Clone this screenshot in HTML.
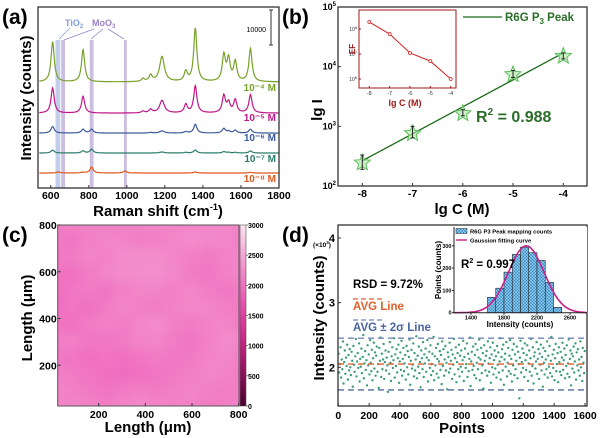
<!DOCTYPE html>
<html><head><meta charset="utf-8">
<style>
html,body{margin:0;padding:0;background:#fff;}
svg{display:block;font-family:"Liberation Sans",Arial,sans-serif;font-weight:bold;}
</style></head>
<body>
<svg id="fig" width="600" height="438" viewBox="0 0 600 438" xmlns="http://www.w3.org/2000/svg">
<defs>
<pattern id="hatch" width="3" height="3" patternUnits="userSpaceOnUse"><rect width="3" height="3" fill="#7ec8f0"/><path d="M0,0L3,3M3,0L0,3" stroke="#3a7ab0" stroke-width="0.5"/></pattern>
<filter id="blur" x="0" y="0" width="1" height="1"><feGaussianBlur stdDeviation="5"/></filter>
<clipPath id="clipc"><rect x="57.7" y="225" width="181.3" height="181"/></clipPath>
<linearGradient id="cbar" x1="0" y1="1" x2="0" y2="0">
<stop offset="0" stop-color="#4a0030"/><stop offset="0.167" stop-color="#8a1058"/><stop offset="0.333" stop-color="#c0207e"/><stop offset="0.5" stop-color="#e040a0"/><stop offset="0.667" stop-color="#f070c0"/><stop offset="0.833" stop-color="#f5a5d5"/><stop offset="1" stop-color="#fbe3f2"/>
</linearGradient>
</defs>

<text x="2" y="24" font-size="21">(a)</text>
<text x="282" y="24" font-size="21">(b)</text>
<text x="2" y="242" font-size="21">(c)</text>
<text x="282" y="242" font-size="21">(d)</text>

<g id="pa"></g>
<g id="pb"></g>
<g id="pc"></g>
<g id="pd"></g>
</svg>
<script>
// ---------- Panel (a) data ----------
const aSeriesLabels = ["10⁻⁴ M","10⁻⁵ M","10⁻⁶ M","10⁻⁷ M","10⁻⁸ M"];
const aOffsets = [26000,17100,11400,5700,0];
const aCenters = [610,640,770,815,990,1085,1125,1185,1310,1360,1510,1535,1570,1650];
const aHeights4 = [11500,0,9200,0,0,800,1800,7200,2800,15200,7400,6200,5600,9400];
const aHeights5 = [7200,0,4800,0,0,500,1000,3600,2400,7700,4900,2800,3700,5200];
const aHeights6 = [1900,0,1100,1100,0,0,200,600,400,2500,1300,500,800,1100];
const aHeights7 = [850,0,600,1100,0,0,0,300,200,850,400,200,200,600];
const aHeights8 = [0,300,200,1700,600,0,0,0,0,300,0,0,0,200];
const aXTicks = [600,800,1000,1200,1400,1600,1800];
const aBands = [[625,650],[655,675],[805,825],[985,1000]];

// ---------- Panel (b) data ----------
const bLogC = [-8,-7,-6,-5,-4];
const bIntensity = [245,760,1640,7400,15000];
const bErrLow = [190,640,1500,6600,13500];
const bErrHigh = [330,1000,1900,8600,17000];
const bFit = [265,17000];
const bXTicks = [-8,-7,-6,-5,-4];
const bYTickExp = [2,3,4,5];
const bEF = [1.9e8,6.3e7,1.1e7,5.2e6,1.0e6];
const bEFTickExp = [6,7,8];

// ---------- Panel (c) data ----------
const cGrid = [
[2150,2200,2180,2120,2150,2200,2230,2200,2180,2220,2250,2200],
[2100,2050,2150,2200,2180,2120,2150,2200,2250,2230,2200,2150],
[2080,2100,2200,2150,2250,2280,2260,2200,2150,2100,2180,2200],
[2050,2000,2100,2200,2250,2280,2300,2220,2100,2080,2150,2200],
[2000,2050,2120,2050,2150,2200,2180,2150,2200,2120,2080,2100],
[1980,2050,2000,2100,2200,2150,2100,2180,2220,2200,2150,2080],
[2050,2000,2100,2150,2120,2200,2250,2150,2100,2180,2200,2120],
[2100,2150,2080,2050,2100,2180,2200,2100,2050,2150,2250,2200],
[2080,2050,2000,2050,2000,2050,2100,2080,2100,2180,2200,2150],
[2150,2100,2050,2000,1980,2000,2050,2100,2150,2200,2180,2100],
[2200,2150,2100,2050,2100,2150,2100,2150,2200,2150,2100,2150],
[2180,2220,2200,2150,2200,2250,2200,2180,2150,2100,2150,2200]];
const cTicks = [200,400,600,800];
const cBarTicks = [0,500,1000,1500,2000,2500,3000];

// ---------- Panel (d) data ----------
const dValues = [
2.21,1.92,2.05,2.31,1.84,2.12,1.97,2.40,1.75,2.08,2.26,1.90,2.15,2.02,2.35,1.81,2.19,1.95,2.28,2.00,
1.88,2.24,2.10,1.70,2.33,2.04,1.93,2.17,2.44,1.86,2.09,2.22,1.99,2.37,1.78,2.13,2.01,2.29,1.91,2.16,
2.50,1.83,2.06,2.25,1.96,2.11,1.72,2.34,2.03,2.20,1.89,2.42,2.07,1.94,2.27,1.80,2.14,2.38,1.98,2.23,
1.87,2.18,2.32,1.93,2.05,1.68,2.30,2.10,2.46,1.85,2.21,1.97,2.12,2.36,1.82,2.08,2.26,1.95,2.15,2.03,
1.62,2.24,1.90,2.39,2.07,1.79,2.17,2.31,1.99,2.11,2.45,1.84,2.20,2.02,2.28,1.92,2.14,2.35,1.76,2.09,
2.23,1.96,2.41,1.87,2.13,2.30,1.94,2.06,2.19,1.81,2.33,2.00,2.25,1.89,2.16,2.43,1.73,2.10,2.27,1.98,
2.04,2.37,1.86,2.22,1.95,2.12,2.48,1.83,2.18,2.01,2.32,1.91,2.08,1.69,2.26,2.14,1.97,2.39,1.85,2.20,
2.06,2.29,1.93,2.15,2.42,1.78,2.11,2.24,1.99,2.34,1.88,2.05,2.21,1.94,2.47,1.80,2.17,2.03,2.30,1.90,
2.13,2.36,1.84,2.09,2.25,1.96,2.19,1.74,2.40,2.02,2.28,1.87,2.12,2.33,1.95,2.07,1.66,2.23,2.16,1.92,
2.38,1.98,2.10,2.27,1.82,2.20,2.04,2.44,1.89,2.14,2.31,1.77,2.08,2.22,1.97,2.35,1.86,2.18,2.01,2.26,
1.93,2.11,2.41,1.79,2.16,2.29,1.99,2.05,2.37,1.85,2.21,1.94,2.13,2.46,1.71,2.09,2.24,1.96,2.32,2.02,
1.88,2.19,2.36,1.83,2.07,2.27,1.97,2.15,2.43,1.80,2.12,2.30,1.91,2.03,2.22,1.67,2.34,2.10,1.95,2.18,
2.25,1.87,2.40,2.06,1.93,2.14,2.31,1.76,2.20,2.00,2.38,1.89,2.11,2.26,1.98,2.17,1.84,2.33,2.04,2.23,
1.92,2.09,2.45,1.81,2.16,2.28,1.95,2.35,1.73,2.12,2.21,2.01,2.39,1.86,2.07,2.30,1.94,2.18,2.42,1.90,
2.13,1.78,2.27,2.03,2.36,1.88,2.20,1.97,2.10,2.32,1.83,2.24,2.05,1.52,2.15,2.41,1.92,2.08,2.29,1.99,
2.22,1.85,2.37,2.11,1.96,2.19,2.34,1.79,2.06,2.26,1.93,2.14,2.44,1.87,2.02,2.31,1.75,2.17,2.23,1.98,
2.09,2.39,1.90,2.13,2.28,1.82,2.21,2.04,2.35,1.95,2.16,1.70,2.30,2.07,1.89,2.25,2.12,1.97,2.40,1.84,
2.18,2.01,2.33,1.91,2.10,2.47,1.86,2.20,1.99,2.27,1.80,2.14,2.36,1.94,2.05,2.22,1.77,2.31,2.08,1.93,
2.24,1.88,2.15,2.38,1.96,2.11,2.29,1.83,2.19,2.02,2.34,1.90,2.06,2.43,1.85,2.13,2.26,1.72,2.21,1.98,
2.17,2.32,1.92,2.09,2.37,1.81,2.23,2.03,2.28,1.95,2.12,1.87,2.40,2.00,2.16,1.79,2.30,2.07,1.91,2.25];
const dAvg = 2.05, dHi = 2.45, dLo = 1.65;
const dXTicks = [0,200,400,600,800,1000,1200,1400,1600];
const dYTicks = [2,3,4];
const hBinStart = [1600,1700,1800,1900,2000,2100,2200,2300,2400];
const hCounts = [69,110,182,261,294,269,234,136,24];
const hXTicks = [1400,1800,2200,2600];
const hYTicks = [0,100,200,300];
const gMean = 2070, gSigma = 215, gAmp = 300;

const NS = "http://www.w3.org/2000/svg";
function mk(parent, tag, attrs, text){
  const e = document.createElementNS(NS, tag);
  for (const k in attrs) e.setAttribute(k, attrs[k]);
  if (text !== undefined) e.textContent = text;
  parent.appendChild(e);
  return e;
}
function lin(d0,d1,r0,r1){ return v => r0 + (v-d0)*(r1-r0)/(d1-d0); }

// ================= Panel A =================
(function(){
  const g = document.getElementById('pa');
  const L=38,R=279,T=7,B=188;
  const x = lin(533,1800,L,R);
  const y = lin(0,10000,173,138);
  aBands.forEach((b,i)=>{
    const r = mk(g,'rect',{x:x(b[0]),y:40,width:x(b[1])-x(b[0]),height:B-40,fill:i===0?'#b9c6e6':'#c3b3dc',opacity:0.85});
    
    
  });
  const heights=[aHeights4,aHeights5,aHeights6,aHeights7,aHeights8];
  const colors=['#78a22a','#c01887','#3c5a9c','#2b7d6c','#e2571e'];
  const labY=[91,121,141,162,182];
  heights.forEach((hs,si)=>{
    let d='';
    for(let w=540; w<=1800; w+=2){
      let v=aOffsets[si];
      aCenters.forEach((c,k)=>{ const hw=(c===1185)?15:10; v+=hs[k]/(1+((w-c)/hw)**2); });
      d+=(w===540?'M':'L')+x(w).toFixed(1)+','+y(v).toFixed(1);
    }
    const p=mk(g,'path',{d:d,fill:'none',stroke:colors[si],'stroke-width':1.2});
    
    
    const t=mk(g,'text',{x:276,y:labY[si],'text-anchor':'end','font-size':10,fill:colors[si]},aSeriesLabels[si]);
    
    
  });
  mk(g,'rect',{x:L,y:T,width:R-L,height:B-T,fill:'none',stroke:'#333','stroke-width':1.3});
  aXTicks.forEach(v=>{
    mk(g,'line',{x1:x(v),x2:x(v),y1:B,y2:B-3,stroke:'#333'});
    const t=mk(g,'text',{x:x(v),y:199,'text-anchor':'middle','font-size':10.5},v);
    
    
  });
  const sb=mk(g,'line',{x1:271,x2:271,y1:10,y2:45,stroke:'#333','stroke-width':1});
  
  
  mk(g,'line',{x1:269,x2:273,y1:10,y2:10,stroke:'#333'});
  mk(g,'line',{x1:269,x2:273,y1:45,y2:45,stroke:'#333'});
  mk(g,'text',{x:266,y:32,'text-anchor':'end','font-size':7,'font-weight':'normal'},'10000');
  const t1=mk(g,'text',{x:65,y:26,'font-size':9,fill:'#7fa0d8'});
  t1.innerHTML='TiO<tspan font-size="6" dy="2">2</tspan>';
  const t2=mk(g,'text',{x:92,y:26,'font-size':9,fill:'#9a80c8'});
  t2.innerHTML='MoO<tspan font-size="6" dy="2">3</tspan>';
  [[70,28,59,39],[94,29,64,40],[103,29,91,39],[108,29,124,39]].forEach((a,i)=>{
    mk(g,'line',{x1:a[0],y1:a[1],x2:a[2],y2:a[3],stroke:i===0?'#7fa0d8':'#9a80c8','stroke-width':0.8});
  });
  const xt=mk(g,'text',{x:158,y:216,'text-anchor':'middle','font-size':15});
  xt.innerHTML='Raman shift (cm<tspan font-size="9" dy="-6">-1</tspan><tspan dy="6">)</tspan>';
  
  
  const yt=mk(g,'text',{x:0,y:0,transform:'translate(31,98) rotate(-90)','text-anchor':'middle','font-size':15},'Intensity (counts)');
  
  
})();

// ================= Panel B =================
(function(){
  const g=document.getElementById('pb');
  const L=338,R=587,T=7,B=186;
  const x=lin(-8,-4,362.3,563.3);
  const ly=lin(2,5,B,T);
  const y=v=>ly(Math.log10(v));
  mk(g,'rect',{x:L,y:T,width:R-L,height:B-T,fill:'none',stroke:'#333','stroke-width':1.3});
  bXTicks.forEach(v=>{
    mk(g,'line',{x1:x(v),x2:x(v),y1:B,y2:B-3,stroke:'#333'});
    const t=mk(g,'text',{x:x(v),y:197,'text-anchor':'middle','font-size':10.5},v);
    
    
  });
  bYTickExp.forEach(e=>{
    mk(g,'line',{x1:L,x2:L+3,y1:ly(e),y2:ly(e),stroke:'#333'});
    const t=mk(g,'text',{x:L-2,y:ly(e)+3,'text-anchor':'end','font-size':9});
    t.innerHTML='10<tspan font-size="6" dy="-4">'+e+'</tspan>';
    
    
  });
  const fit=mk(g,'line',{x1:x(bLogC[0]),y1:y(bFit[0]),x2:x(bLogC[4]),y2:y(bFit[1]),stroke:'#1d6b1d','stroke-width':1.3});
  
  
  bLogC.forEach((c,i)=>{
    const cx=x(c), cy=y(bIntensity[i]);
    let pts='';
    for(let k=0;k<10;k++){const r=k%2?3.8:8.5; const a=-Math.PI/2+k*Math.PI/5; pts+=(cx+r*Math.cos(a)).toFixed(1)+','+(cy+r*Math.sin(a)).toFixed(1)+' ';}
    const s=mk(g,'polygon',{points:pts,fill:'#a8e6a0','fill-opacity':0.6,stroke:'#5cbf5c','stroke-width':1});
    
    
    mk(g,'line',{x1:cx,x2:cx,y1:y(bErrLow[i]),y2:y(bErrHigh[i]),stroke:'#222','stroke-width':1});
    mk(g,'line',{x1:cx-2,x2:cx+2,y1:y(bErrLow[i]),y2:y(bErrLow[i]),stroke:'#222'});
    mk(g,'line',{x1:cx-2,x2:cx+2,y1:y(bErrHigh[i]),y2:y(bErrHigh[i]),stroke:'#222'});
  });
  mk(g,'line',{x1:463,x2:502,y1:17,y2:17,stroke:'#1d6b1d','stroke-width':1.3});
  const lg=mk(g,'text',{x:505,y:21,'font-size':11.5,fill:'#2a6e2a'});
  lg.innerHTML='R6G P<tspan font-size="8" dy="3">3</tspan><tspan dy="-3"> Peak</tspan>';
  
  
  const r2=mk(g,'text',{x:476,y:122,'font-size':16,fill:'#2a6e2a'});
  r2.innerHTML='R<tspan font-size="10" dy="-7">2</tspan><tspan dy="7"> = 0.988</tspan>';
  
  
  const xt=mk(g,'text',{x:462,y:214,'text-anchor':'middle','font-size':15},'lg C (M)');
  
  
  const yt=mk(g,'text',{x:0,y:0,transform:'translate(322,110) rotate(-90)','text-anchor':'middle','font-size':15},'lg I');
  
  
  const IL=359,IR=456,IT=10,IB=88;
  const ix=lin(-8,-4,369.3,450.7);
  const iy=lin(6,8,79,29);
  mk(g,'rect',{x:IL,y:IT,width:IR-IL,height:IB-IT,fill:'#fff',stroke:'#a01818','stroke-width':1});
  bEFTickExp.forEach(e=>{
    mk(g,'line',{x1:IL,x2:IL+2,y1:iy(e),y2:iy(e),stroke:'#a01818'});
    const t=mk(g,'text',{x:IL-2,y:iy(e)+2,'text-anchor':'end','font-size':5,'font-weight':'normal',fill:'#333'});
    t.innerHTML='10<tspan font-size="4" dy="-2">'+e+'</tspan>';
  });
  bXTicks.forEach(v=>{
    mk(g,'line',{x1:ix(v),x2:ix(v),y1:IB,y2:IB-2,stroke:'#a01818'});
    mk(g,'text',{x:ix(v),y:IB+7,'text-anchor':'middle','font-size':5.5,'font-weight':'normal',fill:'#333'},v);
  });
  let d='';
  bLogC.forEach((c,i)=>{ d+=(i?'L':'M')+ix(c)+','+iy(Math.log10(bEF[i])); });
  const il=mk(g,'path',{d:d,fill:'none',stroke:'#d42020','stroke-width':1});
  
  
  bLogC.forEach((c,i)=>{
    const p=mk(g,'circle',{cx:ix(c),cy:iy(Math.log10(bEF[i])),r:1.5,fill:'#fff',stroke:'#d42020','stroke-width':0.8});
    
    
  });
  mk(g,'text',{x:405,y:106,'text-anchor':'middle','font-size':9,fill:'#a01818'},'lg C (M)');
  mk(g,'text',{x:0,y:0,transform:'translate(355,49) rotate(-90)','text-anchor':'middle','font-size':8,fill:'#a01818'},'EF');
})();

// ================= Panel C =================
(function(){
  const g=document.getElementById('pc');
  const L=57.7,R=239,T=225,B=406;
  const x=lin(0,800,52,238.7);
  const y=lin(0,800,412,225);
  const stops=[[0,[74,0,48]],[500,[138,16,88]],[1000,[192,32,126]],[1500,[224,64,160]],[2000,[240,112,192]],[2500,[245,165,213]],[3000,[251,227,242]]];
  function col(v){
    for(let i=0;i<stops.length-1;i++){
      if(v<=stops[i+1][0]){const t=(v-stops[i][0])/(stops[i+1][0]-stops[i][0]);
        const c=stops[i][1].map((a,k)=>Math.round(a+(stops[i+1][1][k]-a)*t));return 'rgb('+c.join(',')+')';}
    }
    return 'rgb(251,227,242)';
  }
  const hg=mk(g,'g',{'clip-path':'url(#clipc)'});
  const inner=mk(hg,'g',{filter:'url(#blur)'});
  const n=cGrid.length, m=cGrid[0].length;
  const cw=(R-L+24)/m, ch=(B-T+24)/n;
  cGrid.forEach((row,ri)=>row.forEach((v,ci)=>{
    const r=mk(inner,'rect',{x:L-12+ci*cw,y:T-12+ri*ch,width:cw+0.5,height:ch+0.5,fill:col(v)});
    
    
  }));
  mk(g,'rect',{x:L,y:T,width:R-L,height:B-T,fill:'none',stroke:'#555','stroke-width':1});
  cTicks.forEach(v=>{
    mk(g,'line',{x1:x(v),x2:x(v),y1:B,y2:B-3,stroke:'#333'});
    const t=mk(g,'text',{x:x(v),y:418,'text-anchor':'middle','font-size':10.5},v);
    
    
    mk(g,'line',{x1:L,x2:L+3,y1:y(v),y2:y(v),stroke:'#333'});
    const t2=mk(g,'text',{x:L-1,y:y(v)+4,'text-anchor':'end','font-size':10.5},v);
    
    
  });
  const cb=mk(g,'rect',{x:240,y:T,width:6,height:B-T,fill:'url(#cbar)',stroke:'#555','stroke-width':0.6});
  
  
  const cy=lin(0,3000,B,T);
  cBarTicks.forEach(v=>{
    mk(g,'line',{x1:246,x2:248,y1:cy(v),y2:cy(v),stroke:'#333',"stroke-width":0.6});
    const t=mk(g,'text',{x:248,y:cy(v)+3,'font-size':7},v);
    
    
  });
  const xt=mk(g,'text',{x:148,y:432,'text-anchor':'middle','font-size':15},'Length (μm)');
  
  
  const yt=mk(g,'text',{x:0,y:0,transform:'translate(32,318) rotate(-90)','text-anchor':'middle','font-size':15},'Length (μm)');
  
  
})();

// ================= Panel D =================
(function(){
  const g=document.getElementById('pd');
  const L=338,R=587,T=225,B=406;
  const x=lin(0,1600,338.3,585);
  const y=lin(2,4,367.3,238);
  const step=1600/dValues.length;
  dValues.forEach((v,i)=>{
    const c=mk(g,'circle',{cx:x(i*step+step/2).toFixed(1),cy:y(v).toFixed(1),r:1.2,fill:'#3c9c7c'});
    
    
  });
  const la=mk(g,'line',{x1:L,x2:R,y1:y(dAvg),y2:y(dAvg),stroke:'#e0602a','stroke-width':1.4,'stroke-dasharray':'6,4'});
  
  
  const lh=mk(g,'line',{x1:L,x2:R,y1:y(dHi),y2:y(dHi),stroke:'#7088b8','stroke-width':1.4,'stroke-dasharray':'6,4'});
  
  
  const ll=mk(g,'line',{x1:L,x2:R,y1:y(dLo),y2:y(dLo),stroke:'#2c4a8a','stroke-width':1.2,'stroke-dasharray':'6,4'});
  
  
  mk(g,'rect',{x:L,y:T,width:R-L,height:B-T,fill:'none',stroke:'#333','stroke-width':1.3});
  dXTicks.forEach(v=>{
    mk(g,'line',{x1:x(v),x2:x(v),y1:B,y2:B-3,stroke:'#333'});
    const t=mk(g,'text',{x:x(v),y:419,'text-anchor':'middle','font-size':10.5},v);
    
    
  });
  dYTicks.forEach(v=>{
    mk(g,'line',{x1:L,x2:L+3,y1:y(v),y2:y(v),stroke:'#333'});
    const t=mk(g,'text',{x:L-3,y:y(v)+4,'text-anchor':'end','font-size':11},v);
    
    
  });
  const mult=mk(g,'text',{x:313,y:247,'font-size':6.5});
  mult.innerHTML='(×10<tspan font-size="4.5" dy="-3">3</tspan><tspan dy="3">)</tspan>';
  mk(g,'text',{x:353,y:288,'font-size':11.5},'RSD = 9.72%');
  mk(g,'line',{x1:353,x2:384,y1:299,y2:299,stroke:'#e0602a','stroke-width':1.3,'stroke-dasharray':'5,3'});
  mk(g,'text',{x:353,y:310,'font-size':11.5,fill:'#e0602a'},'AVG Line');
  mk(g,'line',{x1:353,x2:384,y1:320,y2:320,stroke:'#7088b8','stroke-width':1.3,'stroke-dasharray':'5,3'});
  mk(g,'text',{x:353,y:331,'font-size':11.5,fill:'#4a64a0'},'AVG ± 2σ Line');
  const xt=mk(g,'text',{x:462,y:433,'text-anchor':'middle','font-size':15},'Points');
  
  
  const yt=mk(g,'text',{x:0,y:0,transform:'translate(324,318) rotate(-90)','text-anchor':'middle','font-size':15},'Intensity (counts)');
  
  
  const IL=454,IR=587,IT=227,IB=312.7;
  const hx=lin(1400,2600,471,570);
  const hy=lin(0,100,IB,IB-22.3);
  mk(g,'rect',{x:IL,y:IT,width:IR-IL,height:IB-IT,fill:'#fff',stroke:'none'});
  hBinStart.forEach((b,i)=>{
    const r=mk(g,'rect',{x:hx(b),y:hy(hCounts[i]),width:hx(b+100)-hx(b),height:IB-hy(hCounts[i]),fill:'url(#hatch)',stroke:'#222','stroke-width':0.6});
    
    
  });
  let d='';
  for(let v=1190; v<=2815; v+=10){
    const c=gAmp*Math.exp(-0.5*((v-gMean)/gSigma)**2);
    d+=(v===1190?'M':'L')+hx(v).toFixed(1)+','+hy(c).toFixed(1);
  }
  const gc=mk(g,'path',{d:d,fill:'none',stroke:'#c8208a','stroke-width':1.6});
  
  
  mk(g,'line',{x1:IL,x2:IR,y1:IB,y2:IB,stroke:'#222','stroke-width':1});
  mk(g,'line',{x1:IL,x2:IL,y1:IT,y2:IB,stroke:'#222','stroke-width':1});
  hXTicks.forEach(v=>{
    mk(g,'line',{x1:hx(v),x2:hx(v),y1:IB,y2:IB+2,stroke:'#222'});
    mk(g,'text',{x:hx(v),y:IB+7,'text-anchor':'middle','font-size':5.5},v);
  });
  hYTicks.forEach(v=>{
    mk(g,'line',{x1:IL-2,x2:IL,y1:hy(v),y2:hy(v),stroke:'#222'});
    mk(g,'text',{x:IL-2.5,y:hy(v)+2,'text-anchor':'end','font-size':5.5},v);
  });
  mk(g,'text',{x:520,y:327,'text-anchor':'middle','font-size':8},'Intensity (counts)');
  mk(g,'text',{x:0,y:0,transform:'translate(441,270) rotate(-90)','text-anchor':'middle','font-size':8},'Points (counts)');
  mk(g,'rect',{x:456,y:228.5,width:11,height:5,fill:'url(#hatch)',stroke:'#222','stroke-width':0.5});
  mk(g,'text',{x:470,y:233.5,'font-size':5.8},'R6G P3 Peak mapping counts');
  mk(g,'line',{x1:456,x2:467,y1:240,y2:240,stroke:'#c8208a','stroke-width':1.4});
  mk(g,'text',{x:470,y:242.5,'font-size':5.8},'Gaussion fitting curve');
  const r2=mk(g,'text',{x:461,y:268,'font-size':11.5});
  r2.innerHTML='R<tspan font-size="7" dy="-5">2</tspan><tspan dy="5"> = 0.997</tspan>';
  
  
})();
</script>
</body></html>
